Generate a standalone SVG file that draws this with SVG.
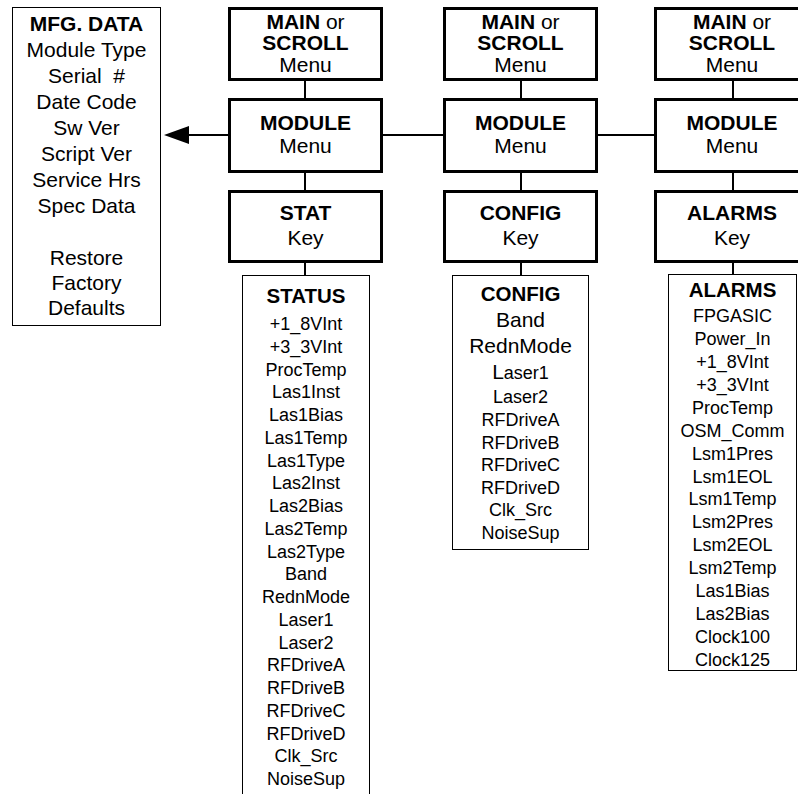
<svg xmlns="http://www.w3.org/2000/svg" width="798" height="794" viewBox="0 0 798 794">
<style>
text{font-family:"Liberation Sans",Arial,sans-serif;fill:#000;text-anchor:middle}
.b{font-weight:bold}
.box{fill:#fff;stroke:#000;stroke-width:3}
.lst{fill:#fff;stroke:#000;stroke-width:1}
.t21{font-size:21px}
.h{font-size:20.5px;font-weight:bold}
.i{font-size:18px}
.c{stroke:#000;stroke-width:2;fill:none}
</style>
<defs>
<marker id="ah" markerWidth="26" markerHeight="18" refX="0" refY="9" orient="auto" markerUnits="userSpaceOnUse" overflow="visible">
<path d="M0,0 L25,9 L0,18 Z" fill="#000"/>
</marker>
</defs>
<rect width="798" height="794" fill="#fff"/>

<g id="connectors">
<line class="c" x1="228" y1="135" x2="189" y2="135" marker-end="url(#ah)"/>
<line class="c" x1="383" y1="135" x2="443" y2="135"/>
<line class="c" x1="598" y1="135" x2="654" y2="135"/>
<line class="c" x1="305" y1="81" x2="305" y2="98"/>
<line class="c" x1="305" y1="173" x2="305" y2="190"/>
<line class="c" x1="305" y1="263" x2="305" y2="275"/>
<line class="c" x1="521" y1="81" x2="521" y2="98"/>
<line class="c" x1="521" y1="173" x2="521" y2="190"/>
<line class="c" x1="521" y1="263" x2="521" y2="275"/>
<line class="c" x1="733" y1="81" x2="733" y2="98"/>
<line class="c" x1="733" y1="173" x2="733" y2="190"/>
<line class="c" x1="733" y1="263" x2="733" y2="274"/>
</g>

<g id="mfg-data">
<rect class="lst" x="12.5" y="7.5" width="148" height="318"/>
<text class="t21 b" x="86.5" y="31">MFG. DATA</text>
<text class="t21" x="86.5" y="57">Module Type</text>
<text class="t21" x="86.5" y="83">Serial&#160; #</text>
<text class="t21" x="86.5" y="109">Date Code</text>
<text class="t21" x="86.5" y="135">Sw Ver</text>
<text class="t21" x="86.5" y="161">Script Ver</text>
<text class="t21" x="86.5" y="187">Service Hrs</text>
<text class="t21" x="86.5" y="213">Spec Data</text>
<text class="t21" x="86.5" y="265">Restore</text>
<text class="t21" x="86.5" y="290">Factory</text>
<text class="t21" x="86.5" y="315">Defaults</text>
</g>

<g id="main1">
<rect class="box" x="229.5" y="8.5" width="152" height="71"/>
<text class="t21" x="305.5" y="28.5"><tspan class="b">MAIN</tspan> or</text>
<text class="t21 b" x="305.5" y="50">SCROLL</text>
<text class="t21" x="305.5" y="71.5">Menu</text>
</g>
<g id="module1">
<rect class="box" x="229.5" y="99.5" width="152" height="72"/>
<text class="t21 b" x="305.5" y="130">MODULE</text>
<text class="t21" x="305.5" y="152.5">Menu</text>
</g>
<g id="stat-key">
<rect class="box" x="229.5" y="191.5" width="152" height="70"/>
<text class="t21 b" x="305.5" y="220">STAT</text>
<text class="t21" x="305.5" y="245">Key</text>
</g>

<g id="main2">
<rect class="box" x="444.5" y="8.5" width="152" height="71"/>
<text class="t21" x="520.5" y="28.5"><tspan class="b">MAIN</tspan> or</text>
<text class="t21 b" x="520.5" y="50">SCROLL</text>
<text class="t21" x="520.5" y="71.5">Menu</text>
</g>
<g id="module2">
<rect class="box" x="444.5" y="99.5" width="152" height="72"/>
<text class="t21 b" x="520.5" y="130">MODULE</text>
<text class="t21" x="520.5" y="152.5">Menu</text>
</g>
<g id="config-key">
<rect class="box" x="444.5" y="191.5" width="152" height="70"/>
<text class="t21 b" x="520.5" y="220">CONFIG</text>
<text class="t21" x="520.5" y="245">Key</text>
</g>

<g id="main3">
<rect class="box" x="655.5" y="8.5" width="152" height="71"/>
<text class="t21" x="732" y="28.5"><tspan class="b">MAIN</tspan> or</text>
<text class="t21 b" x="732" y="50">SCROLL</text>
<text class="t21" x="732" y="71.5">Menu</text>
</g>
<g id="module3">
<rect class="box" x="655.5" y="99.5" width="152" height="72"/>
<text class="t21 b" x="732" y="130">MODULE</text>
<text class="t21" x="732" y="152.5">Menu</text>
</g>
<g id="alarms-key">
<rect class="box" x="655.5" y="191.5" width="152" height="70"/>
<text class="t21 b" x="732" y="220">ALARMS</text>
<text class="t21" x="732" y="245">Key</text>
</g>

<g id="status-list">
<rect class="lst" x="242.5" y="275.5" width="127" height="530"/>
<text class="h" x="306" y="303">STATUS</text>
<text class="i" x="306" y="330">+1_8VInt</text>
<text class="i" x="306" y="352.75">+3_3VInt</text>
<text class="i" x="306" y="375.5">ProcTemp</text>
<text class="i" x="306" y="398.25">Las1Inst</text>
<text class="i" x="306" y="421">Las1Bias</text>
<text class="i" x="306" y="443.75">Las1Temp</text>
<text class="i" x="306" y="466.5">Las1Type</text>
<text class="i" x="306" y="489.25">Las2Inst</text>
<text class="i" x="306" y="512">Las2Bias</text>
<text class="i" x="306" y="534.75">Las2Temp</text>
<text class="i" x="306" y="557.5">Las2Type</text>
<text class="i" x="306" y="580.25">Band</text>
<text class="i" x="306" y="603">RednMode</text>
<text class="i" x="306" y="625.75">Laser1</text>
<text class="i" x="306" y="648.5">Laser2</text>
<text class="i" x="306" y="671.25">RFDriveA</text>
<text class="i" x="306" y="694">RFDriveB</text>
<text class="i" x="306" y="716.75">RFDriveC</text>
<text class="i" x="306" y="739.5">RFDriveD</text>
<text class="i" x="306" y="762.25">Clk_Src</text>
<text class="i" x="306" y="785">NoiseSup</text>
</g>

<g id="config-list">
<rect class="lst" x="452.5" y="275.5" width="136" height="274"/>
<text class="h" x="520.5" y="300.5">CONFIG</text>
<text class="t21" x="520.5" y="327">Band</text>
<text class="t21" x="520.5" y="353">RednMode</text>
<text class="i" x="520.5" y="379"><tspan font-size="21px">L</tspan>aser1</text>
<text class="i" x="520.5" y="403">Laser2</text>
<text class="i" x="520.5" y="426">RFDriveA</text>
<text class="i" x="520.5" y="448.5">RFDriveB</text>
<text class="i" x="520.5" y="471">RFDriveC</text>
<text class="i" x="520.5" y="493.5">RFDriveD</text>
<text class="i" x="520.5" y="516">Clk_Src</text>
<text class="i" x="520.5" y="538.5">NoiseSup</text>
</g>

<g id="alarms-list">
<rect class="lst" x="668.5" y="274.5" width="128" height="396"/>
<text class="h" x="732.5" y="296.5">ALARMS</text>
<text class="i" x="732.5" y="322">FPGASIC</text>
<text class="i" x="732.5" y="344.9">Power_In</text>
<text class="i" x="732.5" y="367.9">+1_8VInt</text>
<text class="i" x="732.5" y="390.8">+3_3VInt</text>
<text class="i" x="732.5" y="413.7">ProcTemp</text>
<text class="i" x="732.5" y="436.7">OSM_Comm</text>
<text class="i" x="732.5" y="459.6">Lsm1Pres</text>
<text class="i" x="732.5" y="482.5">Lsm1EOL</text>
<text class="i" x="732.5" y="505.4">Lsm1Temp</text>
<text class="i" x="732.5" y="528.4">Lsm2Pres</text>
<text class="i" x="732.5" y="551.3">Lsm2EOL</text>
<text class="i" x="732.5" y="574.2">Lsm2Temp</text>
<text class="i" x="732.5" y="597.2">Las1Bias</text>
<text class="i" x="732.5" y="620.1">Las2Bias</text>
<text class="i" x="732.5" y="643">Clock100</text>
<text class="i" x="732.5" y="666">Clock125</text>
</g>
</svg>
